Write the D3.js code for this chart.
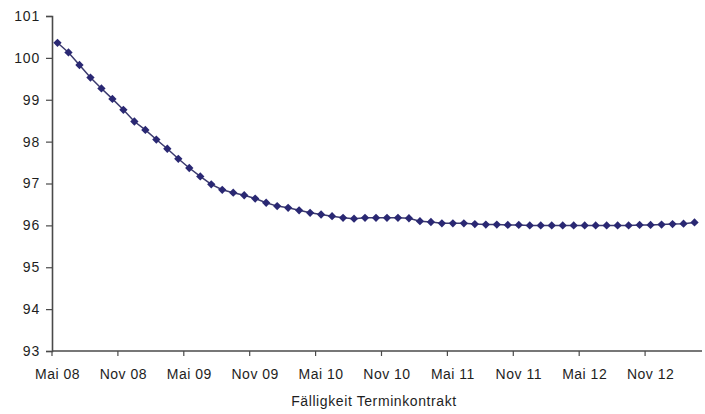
<!DOCTYPE html>
<html>
<head>
<meta charset="utf-8">
<script src="https://cdn.jsdelivr.net/npm/d3@7"></script>
<style>
  html, body { margin: 0; padding: 0; background: #fff; }
  svg { display: block; }
  text { font-family: "Liberation Sans", Arial, sans-serif; fill: #1e1e1e; }
</style>
</head>
<body>
<svg id="chart" width="705" height="414"></svg>
<script>
const categories = [
  "Mai 08","Jun 08","Jul 08","Aug 08","Sep 08","Okt 08","Nov 08","Dez 08",
  "Jan 09","Feb 09","Mär 09","Apr 09","Mai 09","Jun 09","Jul 09","Aug 09","Sep 09","Okt 09","Nov 09","Dez 09",
  "Jan 10","Feb 10","Mär 10","Apr 10","Mai 10","Jun 10","Jul 10","Aug 10","Sep 10","Okt 10","Nov 10","Dez 10",
  "Jan 11","Feb 11","Mär 11","Apr 11","Mai 11","Jun 11","Jul 11","Aug 11","Sep 11","Okt 11","Nov 11","Dez 11",
  "Jan 12","Feb 12","Mär 12","Apr 12","Mai 12","Jun 12","Jul 12","Aug 12","Sep 12","Okt 12","Nov 12","Dez 12",
  "Jan 13","Feb 13","Mär 13"
];
const values = [
  100.36, 100.13, 99.83, 99.53, 99.27, 99.02, 98.76, 98.48, 98.28, 98.05,
  97.83, 97.59, 97.37, 97.17, 96.98, 96.85, 96.78, 96.72, 96.64, 96.54,
  96.46, 96.42, 96.36, 96.30, 96.26, 96.22, 96.18, 96.16, 96.18, 96.18,
  96.18, 96.18, 96.17, 96.10, 96.08, 96.05, 96.05, 96.05, 96.03, 96.02,
  96.02, 96.01, 96.01, 96.00, 96.00, 96.00, 96.00, 96.00, 96.00, 96.00,
  96.00, 96.00, 96.00, 96.01, 96.01, 96.02, 96.03, 96.04, 96.07
];
const xTickLabels = ["Mai 08","Nov 08","Mai 09","Nov 09","Mai 10","Nov 10","Mai 11","Nov 11","Mai 12","Nov 12"];
const yTicks = [93, 94, 95, 96, 97, 98, 99, 100, 101];
const xTitle = "Fälligkeit Terminkontrakt";

const svg = d3.select("#chart");
const mLeft = 52, mRight = 700, mTop = 16, mBottom = 351;

const x = d3.scaleBand().domain(categories).range([mLeft, mRight]).padding(0);
const y = d3.scaleLinear().domain([93, 101]).range([mBottom, mTop]);

const axisColor = "#4a4a4a";

// Y axis
const yAxis = svg.append("g").attr("transform", `translate(${mLeft},0)`)
  .call(d3.axisLeft(y).tickValues(yTicks).tickSize(6).tickPadding(6).tickFormat(d3.format("d")));
yAxis.select(".domain").attr("stroke", axisColor).attr("stroke-width", 1.6);
yAxis.selectAll(".tick line").attr("stroke", axisColor).attr("stroke-width", 1.2);
yAxis.selectAll(".tick text").attr("font-size", 14).attr("fill", "#1e1e1e")
  .attr("font-family", "Liberation Sans, Arial, sans-serif").style("letter-spacing", "0.8px");

// X axis (ticks at category boundaries, labels at category centers)
const xg = svg.append("g").attr("transform", `translate(0,${mBottom})`);
xg.append("line").attr("x1", mLeft).attr("x2", mRight + 2).attr("y1", 0).attr("y2", 0)
  .attr("stroke", axisColor).attr("stroke-width", 1.6);
xg.selectAll("line.tick").data(xTickLabels).enter().append("line")
  .attr("class", "tick")
  .attr("x1", d => x(d)).attr("x2", d => x(d))
  .attr("y1", 0).attr("y2", 5)
  .attr("stroke", axisColor).attr("stroke-width", 1.2);
xg.selectAll("text.lbl").data(xTickLabels).enter().append("text")
  .attr("class", "lbl")
  .attr("x", d => x(d) + x.bandwidth() / 2)
  .attr("y", 28)
  .attr("text-anchor", "middle")
  .attr("font-size", 14)
  .style("letter-spacing", "0.5px")
  .text(d => d);

// Axis title
svg.append("text")
  .attr("x", 374).attr("y", 406)
  .attr("text-anchor", "middle")
  .attr("font-size", 14)
  .style("letter-spacing", "0.6px")
  .text(xTitle);

// Line
const line = d3.line()
  .x((d, i) => x(categories[i]) + x.bandwidth() / 2)
  .y(d => y(d));
svg.append("path").datum(values)
  .attr("d", line)
  .attr("fill", "none")
  .attr("stroke", "#3b3a6e")
  .attr("stroke-width", 1.5);

// Diamond markers
const sym = d3.symbol().type(d3.symbolDiamond2).size(44);
svg.append("g").selectAll("path").data(values).enter().append("path")
  .attr("d", sym)
  .attr("transform", (d, i) => `translate(${x(categories[i]) + x.bandwidth() / 2},${y(d)})`)
  .attr("fill", "#2a2873");
</script>
</body>
</html>
